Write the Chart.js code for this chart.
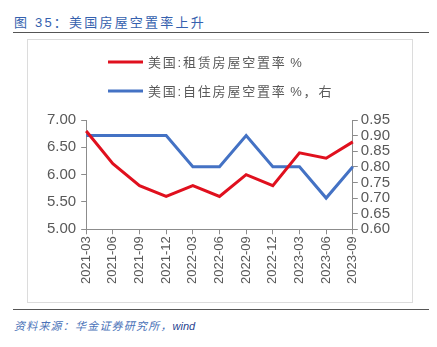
<!DOCTYPE html>
<html><head><meta charset="utf-8">
<script src="https://cdn.jsdelivr.net/npm/chart.js@4"></script>
<style>
html,body{margin:0;padding:0;background:#fff;width:437px;height:347px;overflow:hidden;font-family:"Liberation Sans","Noto Sans CJK SC",sans-serif;}
#title{position:absolute;left:14px;top:12px;font-size:13px;color:#3561AE;letter-spacing:2.2px;font-family:"Liberation Sans","Noto Sans CJK SC",sans-serif;white-space:nowrap;}
#rule1{position:absolute;left:13px;top:32px;width:416px;height:0;border-top:1.5px solid #555;}
#box{position:absolute;left:27px;top:39px;width:386px;height:264px;border:1px solid #dcdcdc;box-sizing:border-box;}
#wrap{position:absolute;left:27px;top:39px;width:386px;height:264px;}
#rule2{position:absolute;left:13px;top:309px;width:416px;height:0;border-top:1.5px solid #555;}
#src{position:absolute;left:14px;top:317px;font-size:11px;font-style:italic;color:#4A72B8;letter-spacing:1.2px;white-space:nowrap;font-family:"Liberation Sans","Noto Sans CJK SC",sans-serif;}
#src b{font-weight:normal;color:#1F3F8F;letter-spacing:0;}
</style></head>
<body>
<div id="title">图 35：美国房屋空置率上升</div>
<div id="rule1"></div>
<div id="box"></div>
<div id="wrap"><canvas id="c" width="386" height="264"></canvas></div>
<div id="rule2"></div>
<div id="src">资料来源：华金证券研究所，<b>wind</b></div>
<script>
const categories = ["2021-03","2021-06","2021-09","2021-12","2022-03","2022-06","2022-09","2022-12","2023-03","2023-06","2023-09"];
const rentalVacancy = [6.8, 6.2, 5.8, 5.6, 5.8, 5.6, 6.0, 5.8, 6.4, 6.3, 6.6];
const homeownerVacancy = [0.9, 0.9, 0.9, 0.9, 0.8, 0.8, 0.9, 0.8, 0.8, 0.7, 0.8];
const seriesNames = ["美国:租赁房屋空置率 %", "美国:自住房屋空置率 %，右"];
const leftTicks = [5.0, 5.5, 6.0, 6.5, 7.0];
const rightTicks = [0.60, 0.65, 0.70, 0.75, 0.80, 0.85, 0.90, 0.95];

const gray = '#8c8c8c';
const txt = '#595959';
const fontFam = '"Liberation Sans","Noto Sans CJK SC",sans-serif';

const customLegend = {
  id: 'customLegend',
  afterDraw(chart) {
    const ctx = chart.ctx;
    const x0 = 81, ys = [23, 52];
    ctx.save();
    chart.data.datasets.forEach((ds, i) => {
      ctx.strokeStyle = ds.borderColor;
      ctx.lineWidth = 3;
      ctx.beginPath();
      ctx.moveTo(x0, ys[i]);
      ctx.lineTo(x0 + 35, ys[i]);
      ctx.stroke();
      ctx.fillStyle = txt;
      ctx.font = '13px ' + fontFam;
      ctx.textBaseline = 'middle';
      ctx.textAlign = 'left';
      let x = x0 + 40;
      for (const ch of ds.label) {
        ctx.fillText(ch, x, ys[i] + 1);
        x += ctx.measureText(ch).width + (ch === ' ' ? 0 : 1.8);
      }
    });
    ctx.restore();
  }
};

new Chart(document.getElementById('c'), {
  type: 'line',
  data: {
    labels: categories,
    datasets: [
      { label: seriesNames[0], data: rentalVacancy, borderColor: '#E0101E', backgroundColor: '#E0101E', borderWidth: 3, pointRadius: 0, tension: 0, yAxisID: 'y' },
      { label: seriesNames[1], data: homeownerVacancy, borderColor: '#4472C4', backgroundColor: '#4472C4', borderWidth: 3, pointRadius: 0, tension: 0, yAxisID: 'y1' }
    ]
  },
  options: {
    responsive: false,
    animation: false,
    events: [],
    layout: { padding: { top: 81, left: 15, right: 20, bottom: 17 } },
    plugins: { legend: { display: false }, tooltip: { enabled: false } },
    scales: {
      x: {
        offset: false,
        grid: { drawOnChartArea: false, drawTicks: true, tickLength: 5, color: gray },
        border: { display: true, color: gray },
        ticks: { color: txt, font: { size: 13, family: fontFam }, minRotation: 90, maxRotation: 90, autoSkip: false, padding: 2 }
      },
      y: {
        position: 'left',
        min: 5, max: 7,
        afterBuildTicks(axis) { axis.ticks = leftTicks.map(v => ({ value: v })); },
        grid: { drawOnChartArea: false, drawTicks: true, tickLength: 5, color: gray },
        border: { display: true, color: gray },
        ticks: { color: txt, font: { size: 15, family: fontFam }, padding: 5, autoSkip: false, callback: v => Number(v).toFixed(2) }
      },
      y1: {
        position: 'right',
        min: 0.6, max: 0.95,
        afterBuildTicks(axis) { axis.ticks = rightTicks.map(v => ({ value: v })); },
        grid: { drawOnChartArea: false, drawTicks: true, tickLength: 5, color: gray },
        border: { display: true, color: gray },
        ticks: { color: txt, font: { size: 15, family: fontFam }, padding: 3, autoSkip: false, callback: v => Number(v).toFixed(2) }
      }
    }
  },
  plugins: [customLegend]
});
</script>
</body></html>
